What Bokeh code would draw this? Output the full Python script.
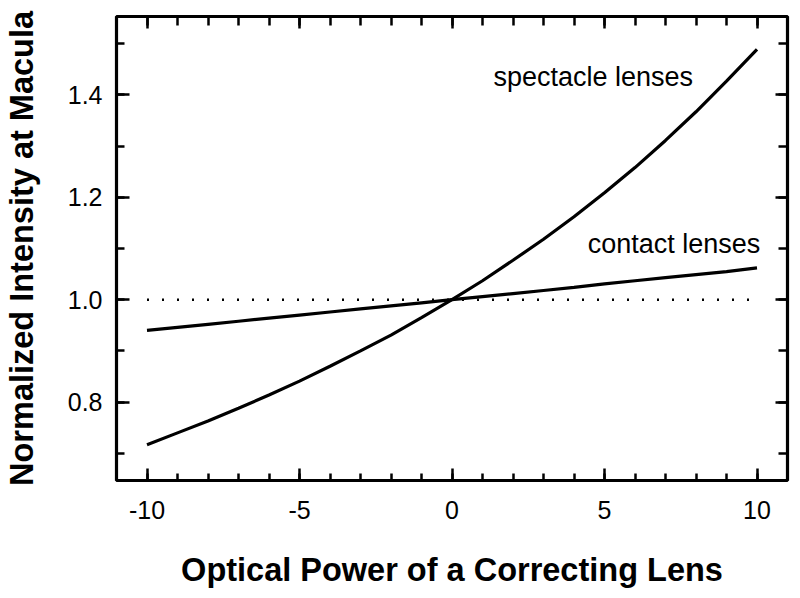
from bokeh.plotting import figure
from bokeh.models import LinearAxis, FixedTicker, Range1d, CustomJSTickFormatter
from bokeh.core.properties import value
from bokeh.embed import file_html
from bokeh.resources import INLINE

# ---- data ----
power = [-10, -9, -8, -7, -6, -5, -4, -3, -2, -1, 0, 1, 2, 3, 4, 5, 6, 7, 8, 9, 10]
spectacle = [0.717, 0.740, 0.763, 0.788, 0.814, 0.841, 0.870, 0.900, 0.931, 0.965, 1.000,
             1.037, 1.077, 1.118, 1.162, 1.209, 1.258, 1.311, 1.367, 1.427, 1.489]
contact = [0.940, 0.946, 0.952, 0.958, 0.964, 0.970, 0.976, 0.982, 0.988, 0.994, 1.000,
           1.006, 1.012, 1.018, 1.024, 1.031, 1.037, 1.043, 1.049, 1.055, 1.062]
ref_x = [-10, 10]
ref_y = [1.0, 1.0]

x_major = [-10, -5, 0, 5, 10]
x_minor = [-10, -9, -8, -7, -6, -5, -4, -3, -2, -1, 0, 1, 2, 3, 4, 5, 6, 7, 8, 9, 10]
y_major = [0.8, 1.0, 1.2, 1.4]
y_minor = [0.7, 0.8, 0.9, 1.0, 1.1, 1.2, 1.3, 1.4, 1.5]
y_tick_labels = {0.8: "0.8", 1.0: "1.0", 1.2: "1.2", 1.4: "1.4"}
x_tick_labels = {-10: "-10", -5: "-5", 0: "0", 5: "5", 10: "10"}

labels = ["spectacle lenses", "contact lenses"]
label_x = [4.63, 7.28]
label_y = [1.435, 1.109]

x_title = "Optical Power of a Correcting Lens"
y_title = "Normalized Intensity at Macula"

FONT = "Liberation Sans"

p = figure(width=792, height=590, output_backend="svg", toolbar_location=None,
           x_range=Range1d(-11, 11), y_range=Range1d(0.647, 1.553),
           x_axis_location=None, y_axis_location=None,
           min_border_left=116, min_border_right=5, min_border_top=16, min_border_bottom=107)
p.background_fill_color = "white"
p.border_fill_color = "white"
p.grid.visible = False
p.outline_line_color = "black"
p.outline_line_width = 3.2


def make_axis(cls_ticks, minor, major_in, minor_in, show_labels, overrides=None, title=None):
    ax = LinearAxis(ticker=FixedTicker(ticks=cls_ticks, minor_ticks=minor))
    ax.axis_line_color = None
    ax.major_tick_in = major_in
    ax.major_tick_out = 0
    ax.minor_tick_in = minor_in
    ax.minor_tick_out = 0
    ax.major_tick_line_width = 2.5
    ax.minor_tick_line_width = 2.5
    ax.major_tick_line_color = "black"
    ax.minor_tick_line_color = "black"
    if show_labels:
        ax.major_label_text_font = FONT
        ax.major_label_text_font_size = "25px"
        ax.major_label_text_color = "black"
        if overrides:
            ax.major_label_overrides = overrides
    else:
        ax.formatter = CustomJSTickFormatter(code="return ''")
        ax.major_label_standoff = 0
    if title:
        ax.axis_label = title
        ax.axis_label_text_font = FONT
        ax.axis_label_text_font_size = "32.5px"
        ax.axis_label_text_font_style = "bold"
        ax.axis_label_text_color = "black"
    return ax


bottom = make_axis(x_major, x_minor, 12, 7, True, x_tick_labels, x_title)
bottom.major_label_standoff = 20
bottom.axis_label_standoff = 30
top = make_axis(x_major, x_minor, 12, 9, False)
left = make_axis(y_major, y_minor, 13, 8, True, y_tick_labels, y_title)
left.major_label_standoff = 14
left.axis_label_standoff = 25
right = make_axis(y_major, y_minor, 12, 9, False)

p.add_layout(bottom, "below")
p.add_layout(top, "above")
p.add_layout(left, "left")
p.add_layout(right, "right")

p.line(ref_x, ref_y, line_color="black", line_width=2.5, line_dash="2 13")
p.line(power, spectacle, line_color="black", line_width=3.2)
p.line(power, contact, line_color="black", line_width=3.2)

p.text(x=label_x, y=label_y, text=labels, text_font=value(FONT), text_font_size="27px",
       text_align="center", text_baseline="alphabetic", text_color="black")

open("out.html", "w").write(file_html(p, INLINE))
